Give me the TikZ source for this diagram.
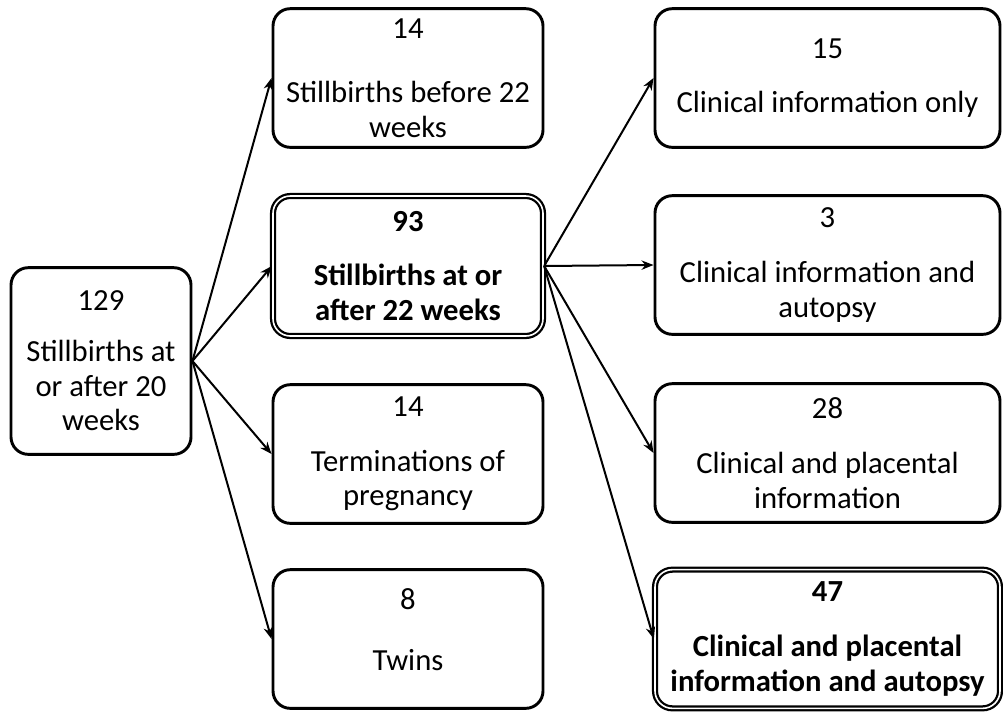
\documentclass[tikz,border=0pt]{standalone}
\usepackage{fontspec}
\setmainfont{Carlito}
\usetikzlibrary{arrows.meta}
\tikzset{
  box/.style={draw, line width=2.2pt, rounded corners=13pt, align=center, inner sep=2pt,
    font=\fontsize{23}{26}\selectfont},
  midbox/.style={box, minimum width=202.5pt, minimum height=104pt},
  outbox/.style={box, minimum width=258.75pt, minimum height=104pt},
  keybox/.style={double, double distance=1.2pt, line width=1.7pt,
    font=\fontsize{23}{26}\selectfont\bfseries},
  link/.style={-{Stealth[length=9pt,width=7pt]}, line width=1.5pt}
}
\begin{document}
\begin{tikzpicture}[x=0.75pt, y=0.75pt]
    \useasboundingbox (0,0) rectangle (1003,-711);

    % Source box on the left
    \node[box, minimum width=135pt, minimum height=140pt] (all) at (101,-361)
        {129\\[12pt]Stillbirths at\\or after 20\\weeks};

    % Middle column
    \node[midbox] (early) at (408,-78) {14\\[22pt]Stillbirths before 22\\weeks};
    \node[midbox, keybox, minimum height=105pt] (late) at (408,-266) {93\\[15pt]Stillbirths at or\\after 22 weeks};
    \node[midbox] (top) at (408,-454) {14\\[15pt]Terminations of\\pregnancy};
    \node[midbox] (twin) at (408,-639) {8\\[20pt]Twins\\[-12pt]\mbox{}};

    % Right column
    \node[outbox] (clin) at (827.5,-78) {15\\[14pt]Clinical information only};
    \node[outbox] (clinaut) at (827.5,-265) {3\\[15pt]Clinical information and\\autopsy};
    \node[outbox] (clinpla) at (827.5,-453) {28\\[15pt]Clinical and placental\\information};
    \node[outbox, keybox] (full) at (827.5,-639) {47\\[15pt]Clinical and placental\\information and autopsy};

    % Connect the source to the middle column
    \foreach \j in {early, late, top, twin} {
        \draw[link] (all.east) -- (\j.west);
    }

    % Connect the 22 week box to the right column
    \foreach \j in {clin, clinaut, clinpla, full} {
        \draw[link] (late.east) -- (\j.west);
    }
\end{tikzpicture}
\end{document}
